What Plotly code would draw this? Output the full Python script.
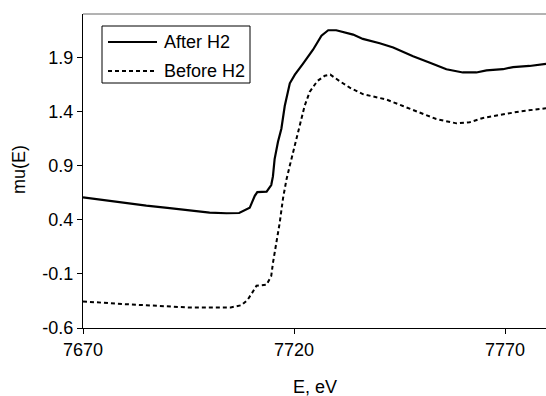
import plotly.graph_objects as go

# Data
after_E = [7670, 7675, 7680, 7685, 7690, 7695, 7697.6, 7700, 7704, 7707, 7709.5, 7710.7, 7711.3,
           7713.5, 7714.6, 7715.0, 7715.4, 7716.2, 7717.0, 7717.8, 7719.0, 7720.2, 7722.1,
           7724.5, 7726.5, 7728.1, 7730.0, 7732.4, 7734.0, 7736.3, 7740.3, 7743.5, 7748.2,
           7752.2, 7756.1, 7760.0, 7763.2, 7765.6, 7769.5, 7771.9, 7775.8, 7779.7]
after_mu = [0.607, 0.58, 0.555, 0.53, 0.51, 0.485, 0.47, 0.465, 0.46, 0.462, 0.51, 0.62, 0.655,
            0.66, 0.72, 0.80, 0.96, 1.12, 1.24, 1.45, 1.66, 1.74, 1.84,
            1.97, 2.10, 2.15, 2.15, 2.13, 2.11, 2.07, 2.03, 1.99, 1.91,
            1.85, 1.79, 1.76, 1.76, 1.78, 1.79, 1.81, 1.82, 1.84]

before_E = [7670, 7675, 7680, 7685, 7690, 7695, 7700, 7705, 7707.5, 7709.0, 7710.0, 7711.1,
            7713.5, 7714.6, 7715.0, 7715.8, 7716.6, 7717.4, 7718.2, 7719.0, 7720.2, 7721.4,
            7722.5, 7723.7, 7725.5, 7727.3, 7728.6, 7730.8, 7733.2, 7736.3, 7738.7, 7741.9,
            7745.8, 7749.8, 7753.7, 7758.5, 7761.6, 7764.8, 7769.5, 7773.5, 7779.7]
before_mu = [-0.355, -0.37, -0.38, -0.39, -0.40, -0.41, -0.41, -0.41, -0.39, -0.34, -0.28, -0.21,
             -0.20, -0.12, 0.0, 0.17, 0.37, 0.60, 0.77, 0.90, 1.08, 1.28,
             1.45, 1.58, 1.68, 1.73, 1.74, 1.68, 1.62, 1.56, 1.54, 1.51,
             1.45, 1.39, 1.33, 1.29, 1.30, 1.34, 1.37, 1.40, 1.43]

series_names = ["After H2", "Before H2"]
x_ticks = [7670, 7720, 7770]
y_ticks = [-0.6, -0.1, 0.4, 0.9, 1.4, 1.9]
y_tick_labels = ["-0.6", "-0.1", "0.4", "0.9", "1.4", "1.9"]

FONT = "Liberation Sans, Arial, sans-serif"

fig = go.Figure()
fig.add_trace(go.Scatter(x=after_E, y=after_mu, mode="lines", name=series_names[0],
                         line=dict(color="black", width=2.2), showlegend=False))
fig.add_trace(go.Scatter(x=before_E, y=before_mu, mode="lines", name=series_names[1],
                         line=dict(color="black", width=2, dash="4px,3px"), showlegend=False))

fig.update_layout(
    width=546, height=396,
    margin=dict(l=83, r=0, t=14, b=68),
    paper_bgcolor="white", plot_bgcolor="white",
    font=dict(family=FONT, size=18, color="black"),
    xaxis=dict(range=[7670, 7779.7], tickvals=x_ticks, ticks="outside", ticklen=5,
               tickcolor="black", showline=True, linecolor="black", linewidth=1,
               showgrid=False, zeroline=False, tickfont=dict(size=18)),
    yaxis=dict(range=[-0.6, 2.3], tickvals=y_ticks, ticktext=y_tick_labels,
               ticks="outside", ticklen=5, tickcolor="black", showline=True,
               linecolor="black", linewidth=1, showgrid=False, zeroline=False,
               tickfont=dict(size=18)),
)

# top border of plot area
fig.add_shape(type="line", xref="paper", yref="paper", x0=0, x1=1, y0=1, y1=1,
              line=dict(color="#666666", width=1))

# axis titles
fig.add_annotation(text="E, eV", xref="paper", yref="paper", x=(315 - 83) / 463, y=-(387 - 328) / 314,
                   showarrow=False, xanchor="center", yanchor="middle", font=dict(size=18))
fig.add_annotation(text="mu(E)", xref="paper", yref="paper", x=-(83 - 19) / 463, y=(328 - 170) / 314,
                   showarrow=False, xanchor="center", yanchor="middle", textangle=-90,
                   font=dict(size=18))

# manual legend (pixel positions converted to paper coords)
def px(x):
    return (x - 83) / 463

def py(y):
    return (328 - y) / 314

fig.add_shape(type="rect", xref="paper", yref="paper", x0=px(102), x1=px(250), y0=py(83), y1=py(26),
              line=dict(color="black", width=1), fillcolor="white")
fig.add_shape(type="line", xref="paper", yref="paper", x0=px(108), x1=px(157), y0=py(42), y1=py(42),
              line=dict(color="black", width=2.2))
fig.add_shape(type="line", xref="paper", yref="paper", x0=px(108), x1=px(157), y0=py(71), y1=py(71),
              line=dict(color="black", width=2, dash="4px,3px"))
fig.add_annotation(text=series_names[0], xref="paper", yref="paper", x=px(162), y=py(42),
                   showarrow=False, xanchor="left", yanchor="middle", font=dict(size=18))
fig.add_annotation(text=series_names[1], xref="paper", yref="paper", x=px(162), y=py(71),
                   showarrow=False, xanchor="left", yanchor="middle", font=dict(size=18))

fig.write_html("out.html")
